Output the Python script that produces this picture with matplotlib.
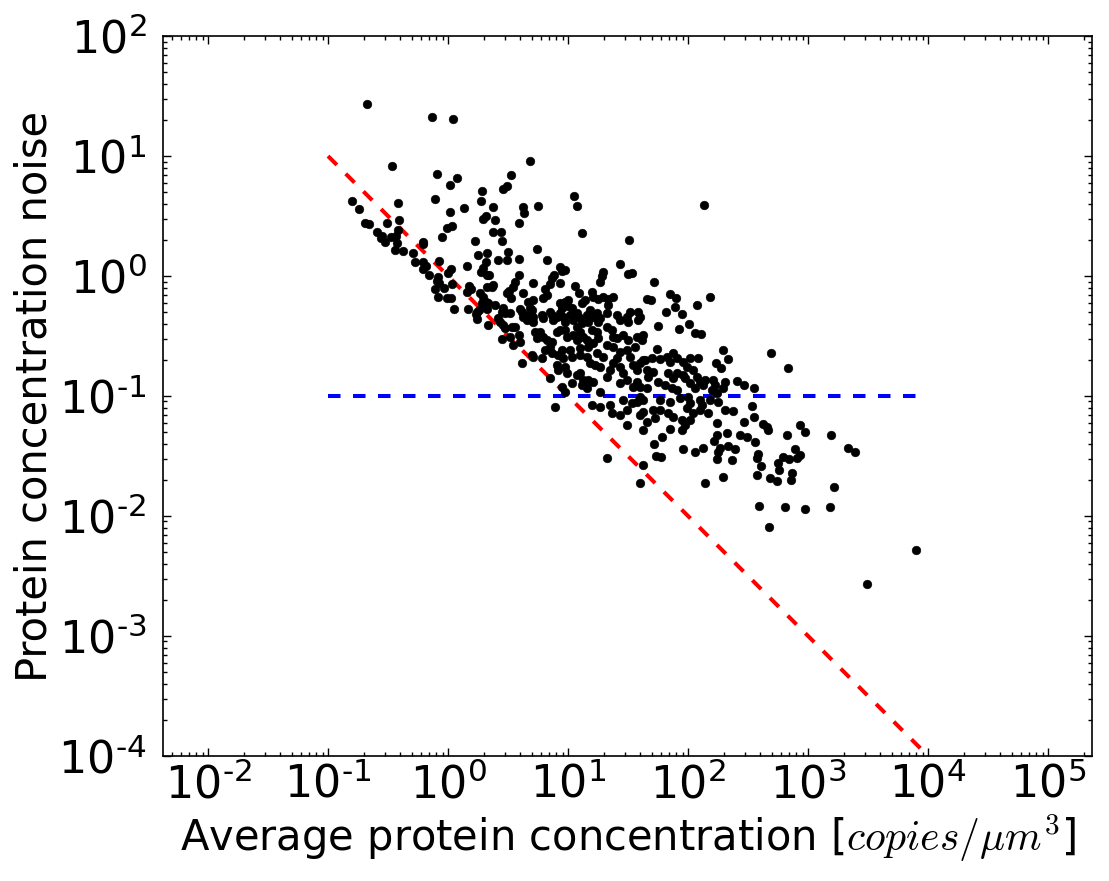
import numpy as np
import matplotlib
matplotlib.use("Agg")
import matplotlib.pyplot as plt
from matplotlib.ticker import FixedLocator, FuncFormatter, LogLocator, NullFormatter

# ---- data (log10 of average concentration, log10 of noise) ----
log10_conc = [
    # upper-left group
    -0.675, -0.136, 0.044, -0.464, -0.089, 0.075, 0.017, 0.281, 0.278, -0.108,
    0.136, -0.8, -0.739, -0.417, 0.019, 0.317, 0.294, -0.408, -0.689, -0.656,
    -0.508, -0.006, 0.036, -0.419, -0.592, -0.55, -0.558, -0.525, -0.478, -0.433,
    -0.05, 0.225, -0.428, -0.211, -0.206, -0.444, -0.375, -0.294, 0.253, 0.328,
    -0.275, -0.206, -0.186, -0.211, -0.072, -0.156, -0.081, -0.094, -0.072, 0.022,
    0.003, 0.156, 0.314, 0.294, 0.272, 0.322, -0.108, -0.031, 0.036, 0.175,
    0.156, 0.192, -0.081, -0.006, 0.025, 0.047, 0.164, 0.267, 0.294, 0.314,
    0.281, 0.239, 0.256, 0.231, 0.244, 0.322, 0.336, 0.322,
    # upper-middle group
    0.683, 0.528, 0.461, 0.494, 0.378, 0.622, 0.631, 0.75, 1.053, 1.078,
    0.394, 0.594, 0.372, 0.444, 0.45, 1.114, 1.511, 0.739, 0.497, 0.589,
    0.417, 0.489, 0.822,
    # dense core
    0.933, 0.975, 0.947, 1.433, 0.345, 0.595, 0.558, 0.711, 0.883, 0.864,
    0.85, 0.933, 1.058, 1.294, 1.281, 1.267, 1.503, 1.531, 0.378, 0.364,
    0.544, 0.511, 0.495, 0.628, 0.808, 1.094, 1.197, 1.211, 0.336, 0.392,
    0.522, 0.711, 0.67, 0.822, 0.795, 0.933, 0.975, 1.003, 1.003, 0.947,
    1.031, 1.142, 1.114, 1.253, 1.294, 1.336, 1.378, 1.336, 1.656, 0.461,
    0.447, 0.475, 0.517, 0.6, 0.614, 0.683, 0.697, 0.628, 0.656, 0.67,
    0.711, 0.711, 0.781, 0.795, 0.85, 0.864, 0.878, 0.906, 0.933, 0.961,
    0.975, 1.017, 1.045, 1.072, 1.1, 1.114, 1.072, 1.183, 1.156, 1.211,
    1.239, 1.267, 1.253, 1.17, 1.322, 1.406, 1.433, 1.489, 1.503, 1.517,
    1.586, 1.6, 1.586, 0.42, 0.433, 0.461, 0.475, 0.531, 0.558, 0.725,
    0.767, 0.795, 0.739, 0.823, 0.864, 0.85, 0.906, 0.933, 0.975, 0.989,
    1.045, 1.072, 1.1, 1.128, 1.156, 1.197, 1.239, 1.253, 1.211, 1.17,
    1.1, 1.017, 0.947, 0.92, 0.864, 0.808, 1.322, 1.364, 1.378, 1.406,
    1.461, 1.503, 1.572, 1.628, 1.614, 1.558, 1.489, 1.433, 1.378, 1.322,
    0.447, 0.517, 0.595, 0.6, 0.545, 0.711, 0.781, 0.961, 1.031, 1.1,
    1.239, 1.294,
    # below the core
    0.614, 0.697, 0.906, 0.92, 0.975, 0.989, 0.85, 0.947, 0.975, 0.892,
    1.031, 1.072, 1.1, 1.128, 1.17, 1.114, 1.156, 1.211, 1.183, 1.225,
    1.267, 1.156, 1.267, 1.197, 1.267, 1.35, 1.364, 1.433, 1.489, 1.489,
    1.628, 1.6, 1.628, 1.656, 1.322, 1.35, 1.378, 1.406, 1.433, 1.461,
    1.489, 1.433, 1.544, 1.572, 1.6, 1.628, 1.656, 1.669, 1.572, 1.544,
    1.6, 1.517, 1.461, 1.572, 1.531, 1.322, 1.628,
    # right of the core
    2.133, 1.717, 1.689, 1.85, 1.9, 2.18, 2.078, 1.892, 1.817, 1.953,
    2.008, 1.753, 1.928,
    2.058, 2.106, 1.744, 2.294, 2.336, 2.692, 2.831, 2.233, 2.272, 1.642,
    1.697, 1.767, 1.822, 1.878, 1.906, 1.961, 2.017, 2.086, 1.989, 2.044,
    1.85, 1.711, 1.836, 1.906, 1.961, 1.878, 1.656, 1.753, 1.808, 1.864,
    1.906, 1.975, 2.017, 2.072, 2.1, 2.128, 2.058, 2.142, 2.211, 2.225,
    2.308, 2.406, 2.467, 2.55, 2.294, 2.197, 2.239, 1.6, 1.628, 1.767,
    1.85, 1.933, 2.003, 2.017, 2.1, 2.114, 2.183, 2.253, 1.989, 2.044,
    2.1, 2.169, 1.711, 1.767, 1.836, 1.878, 1.725, 1.947, 1.975, 2.017,
    2.239, 2.308, 2.372, 2.467, 2.531, 2.55, 2.628, 2.656, 2.669, 2.933,
    2.975, 2.822, 2.239, 2.328, 2.433, 2.489, 1.781, 1.85, 1.947,
    # lower right
    2.558, 1.719, 2.217, 2.267, 2.336, 2.392, 2.253, 2.244, 2.367, 1.961,
    2.061, 2.128, 1.733, 1.772, 1.6, 2.586, 2.572, 2.606, 2.578, 2.683,
    2.739, 2.753, 2.761, 2.794, 2.844, 2.892, 2.933, 2.906, 2.864, 2.856,
    2.142, 2.289, 2.594, 2.806, 2.978, 2.678,
    3.192, 3.336, 3.392, 3.219, 3.183, 3.9, 3.489,
]

log10_noise = [
    # upper-left group
    1.433, 1.328, 1.308, 0.914, 0.853, 0.814, 0.761, 0.711, 0.623, 0.639,
    0.567, 0.625, 0.561, 0.608, 0.533, 0.5, 0.478, 0.467, 0.444, 0.431,
    0.442, 0.4, 0.414, 0.383, 0.364, 0.336, 0.314, 0.283, 0.325, 0.336,
    0.328, 0.292, 0.278, 0.283, 0.264, 0.214, 0.211, 0.194, 0.172, 0.189,
    0.117, 0.119, 0.083, 0.056, 0.128, 0.006, -0.006, -0.039, -0.056, 0.058,
    0.022, 0.083, 0.119, 0.064, 0.031, 0.008, -0.111, -0.097, -0.067, -0.083,
    -0.136, -0.111, -0.172, -0.186, -0.186, -0.278, -0.272, -0.139, -0.172, -0.214,
    -0.228, -0.297, -0.283, -0.317, -0.358, -0.278, -0.408, -0.089,
    # upper-middle group
    0.961, 0.839, 0.728, 0.747, 0.572, 0.575, 0.525, 0.586, 0.664, 0.586,
    0.469, 0.444, 0.364, 0.367, 0.294, 0.356, 0.3, 0.228, 0.197, 0.139,
    0.133, 0.133, 0.133,
    # dense core
    0.072, 0.05, 0.045, 0.1, 0.006, 0.006, -0.047, -0.055, 0.009, -0.019,
    -0.066, -0.058, -0.083, 0.036, 0.0, -0.047, 0.017, 0.022, -0.075, -0.089,
    -0.089, -0.122, -0.144, -0.139, -0.111, -0.144, -0.13, -0.172, -0.228, -0.241,
    -0.186, -0.2, -0.214, -0.158, -0.186, -0.227, -0.214, -0.2, -0.25, -0.269,
    -0.269, -0.2, -0.227, -0.194, -0.172, -0.194, -0.172, -0.241, -0.194, -0.269,
    -0.297, -0.311, -0.311, -0.277, -0.297, -0.269, -0.283, -0.339, -0.366, -0.325,
    -0.339, -0.38, -0.325, -0.352, -0.297, -0.325, -0.366, -0.339, -0.311, -0.339,
    -0.38, -0.325, -0.366, -0.311, -0.352, -0.394, -0.422, -0.283, -0.325, -0.339,
    -0.311, -0.352, -0.38, -0.38, -0.311, -0.325, -0.366, -0.339, -0.38, -0.297,
    -0.297, -0.339, -0.366, -0.352, -0.38, -0.408, -0.436, -0.427, -0.422, -0.464,
    -0.464, -0.505, -0.519, -0.533, -0.547, -0.589, -0.464, -0.45, -0.45, -0.505,
    -0.491, -0.533, -0.464, -0.505, -0.533, -0.45, -0.464, -0.519, -0.561, -0.589,
    -0.602, -0.616, -0.616, -0.658, -0.644, -0.616, -0.422, -0.45, -0.505, -0.519,
    -0.491, -0.533, -0.505, -0.491, -0.533, -0.589, -0.616, -0.63, -0.589, -0.575,
    -0.527, -0.511, -0.491, -0.547, -0.575, -0.672, -0.686, -0.686, -0.672, -0.658,
    -0.644, -0.672,
    # below the core
    -0.728, -0.658, -0.742, -0.783, -0.756, -0.811, -0.853, -0.922, -0.964, -1.089,
    -0.894, -0.825, -0.811, -0.867, -0.867, -0.908, -0.936, -0.881, -0.728, -0.742,
    -0.756, -0.672, -0.964, -1.075, -1.089, -1.075, -1.144, -1.158, -1.117, -1.242,
    -1.283, -1.158, -1.131, -1.214, -0.839, -0.783, -0.728, -0.686, -0.756, -0.811,
    -0.867, -0.894, -0.742, -0.783, -0.728, -0.7, -0.783, -0.839, -0.881, -0.922,
    -0.922, -0.672, -1.033, -1.047, -1.061, -1.519, -1.575,
    # right of the core
    0.592, -0.053, -0.2, -0.153, -0.186, -0.175, -0.239, -0.256, -0.3, -0.314,
    -0.403, -0.417, -0.442,
    -0.472, -0.484, -0.611, -0.617, -0.695, -0.645, -0.77, -0.728, -0.77, -0.7,
    -0.686, -0.695, -0.672, -0.645, -0.686, -0.714, -0.686, -0.686, -0.756, -0.784,
    -0.714, -0.797, -0.811, -0.811, -0.825, -0.853, -0.936, -0.881, -0.908, -0.936,
    -0.95, -0.853, -0.895, -0.839, -0.881, -0.908, -0.936, -0.867, -0.867, -0.908,
    -0.881, -0.875, -0.908, -0.936, -0.936, -0.95, -0.978, -1.006, -1.033, -1.033,
    -1.047, -1.02, -1.006, -1.061, -1.033, -1.075, -1.033, -1.047, -1.103, -1.145,
    -1.117, -1.145, -1.117, -1.117, -1.145, -1.172, -1.186, -1.2, -1.242, -1.2,
    -1.228, -1.117, -1.122, -1.214, -1.081, -1.172, -1.233, -1.261, -1.284, -1.242,
    -1.297, -1.325, -1.325, -1.311, -1.325, -1.339, -1.345, -1.278, -1.283,
    # lower right
    -1.38, -1.4, -1.375, -1.436, -1.416, -1.444, -1.464, -1.525, -1.533, -1.441,
    -1.466, -1.436, -1.5, -1.511, -1.727, -1.483, -1.519, -1.58, -1.658, -1.68,
    -1.705, -1.561, -1.616, -1.511, -1.522, -1.444, -1.491, -1.519, -1.639, -1.7,
    -1.727, -1.672, -1.916, -1.922, -1.944, -2.089,
    -1.322, -1.436, -1.469, -1.758, -1.925, -2.281, -2.567,
]

# reference lines
line_conc = [1e-1, 1e4]
poisson_noise = [1e1, 1e-4]     # noise = 1 / concentration
floor_noise = [1e-1, 1e-1]      # constant noise floor

x_ticks = [1e-2, 1e-1, 1e0, 1e1, 1e2, 1e3, 1e4, 1e5]
y_ticks = [1e-4, 1e-3, 1e-2, 1e-1, 1e0, 1e1, 1e2]

conc = 10 ** np.array(log10_conc)
noise = 10 ** np.array(log10_noise)

plt.rcParams['font.family'] = ['DejaVu Sans']
plt.rcParams['mathtext.fontset'] = 'cm'
plt.rcParams['lines.scale_dashes'] = False

fig = plt.figure(figsize=(11.09, 8.81), dpi=100, facecolor='white')
ax = fig.add_axes([0.147, 0.142, 0.8377, 0.817])

ax.scatter(conc, noise, s=40, c='black', edgecolors='black', linewidths=0.3, zorder=3)
ax.plot(line_conc, poisson_noise, color='red', lw=2.9, linestyle=(0, (9, 9)), zorder=2)
ax.plot(line_conc, floor_noise, color='blue', lw=2.9, linestyle=(0, (9, 9)), zorder=2)

ax.set_xscale('log')
ax.set_yscale('log')
ax.set_xlim(10 ** -2.375, 10 ** 5.367)
ax.set_ylim(1e-4, 1e2)


def log_fmt(v, pos):
    e = int(round(np.log10(v)))
    s = str(e).replace('-', '\u2010')
    return r'$10^{%s}$' % s


ax.xaxis.set_major_locator(FixedLocator(x_ticks))
ax.yaxis.set_major_locator(FixedLocator(y_ticks))
ax.xaxis.set_minor_locator(LogLocator(base=10, subs=np.arange(2, 10), numticks=20))
ax.yaxis.set_minor_locator(LogLocator(base=10, subs=np.arange(2, 10), numticks=20))
ax.xaxis.set_major_formatter(FuncFormatter(log_fmt))
ax.yaxis.set_major_formatter(FuncFormatter(log_fmt))
ax.xaxis.set_minor_formatter(NullFormatter())
ax.yaxis.set_minor_formatter(NullFormatter())

ax.tick_params(which='both', direction='in', top=True, right=True, width=1.0)
ax.tick_params(which='major', length=6)
ax.tick_params(which='minor', length=3)
ax.tick_params(axis='x', which='major', labelsize=32, pad=5)
ax.tick_params(axis='y', which='major', labelsize=32, pad=12)
for lab in ax.get_xticklabels() + ax.get_yticklabels():
    lab.set_math_fontfamily('dejavusans')

for sp in ax.spines.values():
    sp.set_linewidth(1.2)

ax.set_xlabel(r'Average protein concentration [$copies/\mu m^3$]', fontsize=30, labelpad=4)
ax.set_ylabel('Protein concentration noise', fontsize=30, labelpad=2)

fig.savefig('out.png', dpi=100, facecolor='white')
